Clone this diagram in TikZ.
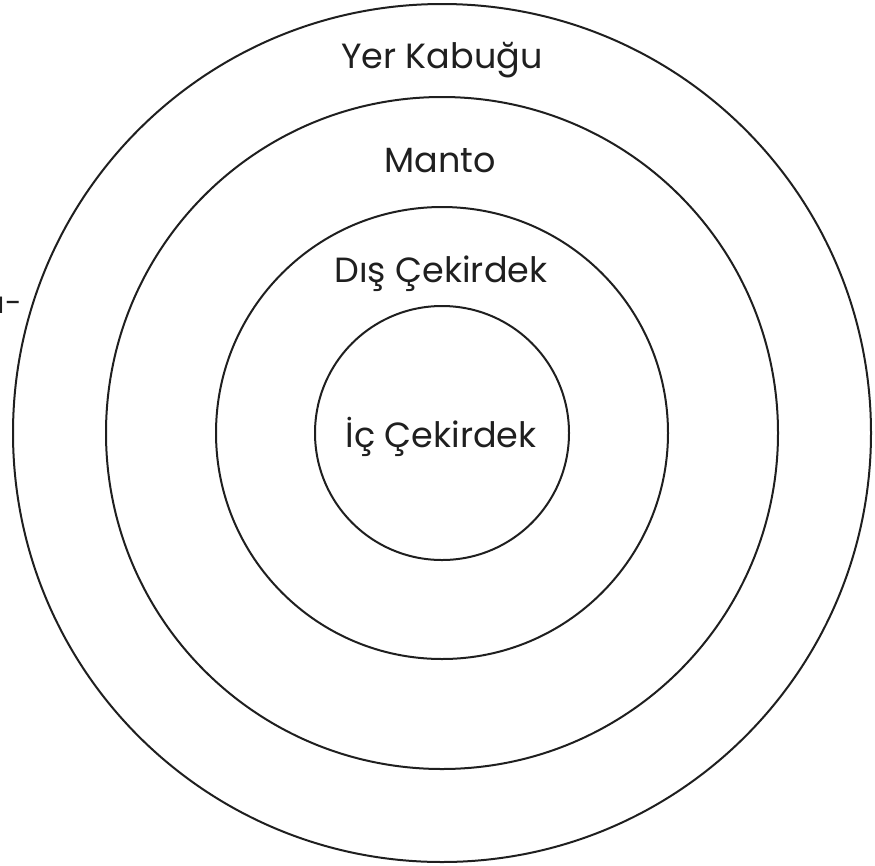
\documentclass[tikz,border=0pt]{standalone}
\usepackage{fontspec}
\setmainfont{Poppins}
\begin{document}
\begin{tikzpicture}[x=1pt,y=-1pt,
  ring/.style={draw=black!88,line width=2pt},
  lbl/.style={anchor=base,inner sep=0pt,font=\fontsize{35}{38}\selectfont,text=black!88}]
\useasboundingbox (0,0) rectangle (875,865);
\coordinate (c) at (442,433);
\draw[ring] (c) circle[radius=429];
\draw[ring] (c) circle[radius=336];
\draw[ring] (c) circle[radius=226];
\draw[ring] (c) circle[radius=127];
\node[lbl] (yer) at (442,68) {Yer Kabuğu};
\node[lbl] (manto) at (440,172) {Manto};
\node[lbl] (dis) at (441,282) {Dış Çekirdek};
\node[lbl] (ic) at (441,447) {İç Çekirdek};
\node[lbl,anchor=base east,font=\fontsize{30}{32}\selectfont] (cut) at (22,313) {ı-};
\end{tikzpicture}
\end{document}
